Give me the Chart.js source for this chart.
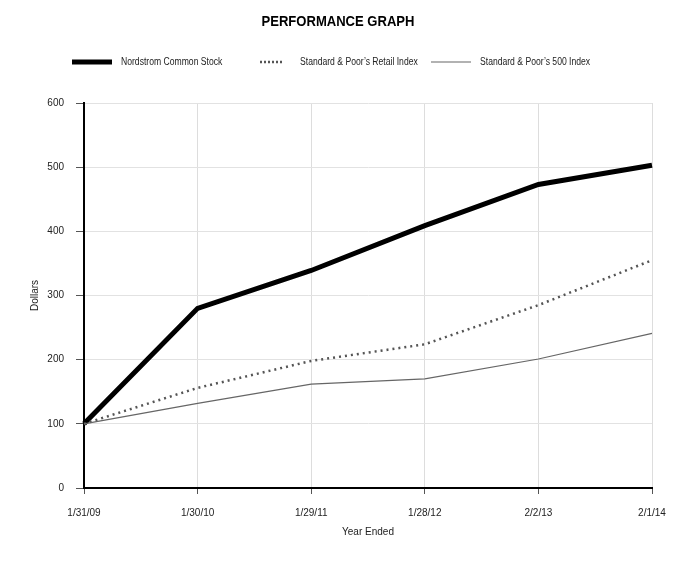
<!DOCTYPE html>
<html>
<head>
<meta charset="utf-8">
<script src="https://cdn.jsdelivr.net/npm/chart.js@4.4.1/dist/chart.umd.min.js"></script>
<style>
  html, body { margin: 0; padding: 0; background: #fff; }
  #wrap { width: 682px; height: 565px; position: relative; }
</style>
</head>
<body>
<div id="wrap"><canvas id="perfChart" width="682" height="565"></canvas></div>
<script>
var FONT = '"Liberation Sans Narrow", "Arial Narrow", "Liberation Sans", Arial, sans-serif'

var yearLabels = ['1/31/09', '1/30/10', '1/29/11', '1/28/12', '2/2/13', '2/1/14']
var nordstrom = [100, 280, 339, 409, 473, 503]
var retailIndex = [100, 156, 198, 224, 285, 355]
var sp500 = [100, 132, 162, 170, 201, 241]
var yTicks = [0, 100, 200, 300, 400, 500, 600]

// narrow look: squeeze text horizontally since no narrow face is installed
function narrowText(ctx, text, x, y, sx) {
    ctx.save()
    ctx.translate(x, y)
    ctx.scale(sx, 1)
    ctx.fillText(text, 0, 0)
    ctx.restore()
}

// title + legend drawn on the canvas so they sit where the original has them
var headerPlugin = {
    id: 'header',
    afterDraw: (chart) => {
        let ctx = chart.ctx
        ctx.save()
        ctx.fillStyle = '#000'
        ctx.textAlign = 'center'
        ctx.textBaseline = 'middle'
        ctx.font = 'bold 15px ' + FONT
        narrowText(ctx, 'PERFORMANCE GRAPH', 338, 22, 0.87)

        let ly = 62
        ctx.font = '10px ' + FONT
        ctx.textAlign = 'left'
        ctx.fillStyle = '#222'
        // Nordstrom
        ctx.lineCap = 'butt'
        ctx.strokeStyle = '#000'
        ctx.lineWidth = 5
        ctx.beginPath(); ctx.moveTo(72, ly); ctx.lineTo(112, ly); ctx.stroke()
        narrowText(ctx, 'Nordstrom Common Stock', 121, ly, 0.86)
        // Retail
        ctx.strokeStyle = '#555'
        ctx.lineWidth = 2.5
        ctx.setLineDash([2, 2])
        ctx.beginPath(); ctx.moveTo(260, ly); ctx.lineTo(283, ly); ctx.stroke()
        ctx.setLineDash([])
        narrowText(ctx, 'Standard & Poor\u2019s Retail Index', 300, ly, 0.86)
        // S&P 500
        ctx.strokeStyle = '#666'
        ctx.lineWidth = 1.2
        ctx.beginPath(); ctx.moveTo(431, ly); ctx.lineTo(471, ly); ctx.stroke()
        narrowText(ctx, 'Standard & Poor\u2019s 500 Index', 480, ly, 0.86)
        ctx.restore()
    }
}

new Chart(document.getElementById('perfChart'), {
    type: 'line',
    data: {
        labels: yearLabels,
        datasets: [{
            label: 'Standard & Poor\u2019s 500 Index',
            data: sp500,
            borderColor: '#666',
            borderWidth: 1.2,
            pointRadius: 0,
            tension: 0,
        }, {
            label: 'Standard & Poor\u2019s Retail Index',
            data: retailIndex,
            borderColor: '#555',
            borderWidth: 2.5,
            borderDash: [2, 4],
            pointRadius: 0,
            tension: 0,
        }, {
            label: 'Nordstrom Common Stock',
            data: nordstrom,
            borderColor: '#000',
            borderWidth: 5,
            pointRadius: 0,
            tension: 0,
        }]
    },
    options: {
        responsive: false,
        animation: false,
        layout: { padding: { top: 103, right: 30, left: 0, bottom: 0 } },
        plugins: {
            legend: { display: false },
            title: { display: false },
            tooltip: { enabled: false },
        },
        scales: {
            x: {
                offset: false,
                afterFit: (scale) => { scale.height = 77 },
                grid: { color: '#ddd', tickColor: '#555', tickLength: 6, drawTicks: true },
                border: { color: '#000', width: 2 },
                ticks: { color: '#222', font: { family: FONT, size: 10 }, padding: 13, maxRotation: 0 },
                title: { display: true, text: 'Year Ended', color: '#222', font: { family: FONT, size: 10 }, padding: { bottom: 27, top: 0 } },
            },
            y: {
                min: 0,
                max: 600,
                afterFit: (scale) => { scale.width = 84 },
                afterBuildTicks: (scale) => { scale.ticks = yTicks.map(v => ({ value: v })) },
                grid: { color: '#e2e2e2', tickColor: '#555', tickLength: 8 },
                border: { color: '#000', width: 2 },
                ticks: { color: '#222', font: { family: FONT, size: 10 }, padding: 12 },
                title: { display: true, text: 'Dollars', color: '#222', font: { family: FONT, size: 10 }, padding: { top: 29, bottom: 0 } },
            }
        }
    },
    plugins: [headerPlugin]
})
</script>
</body>
</html>
